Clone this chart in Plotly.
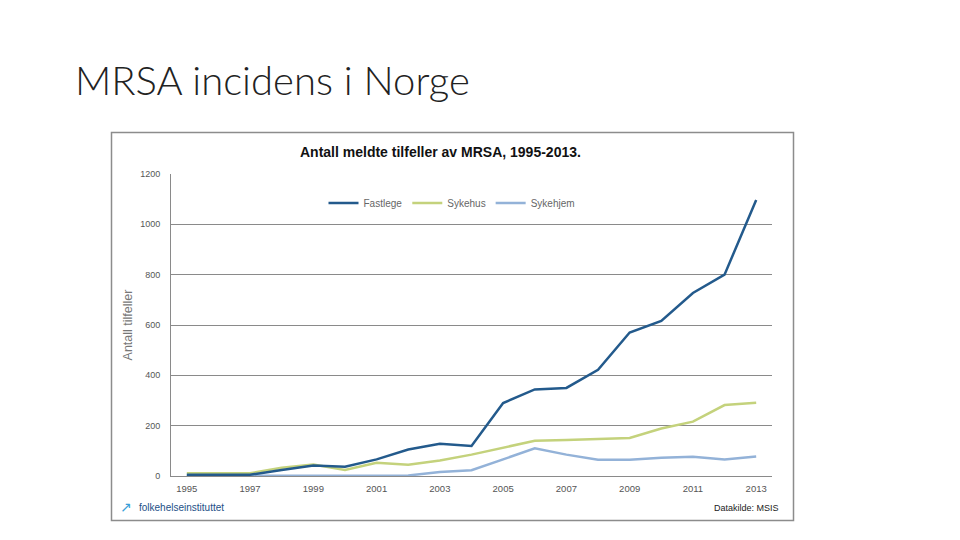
import plotly.graph_objects as go

years = list(range(1995, 2014))
fastlege = [5, 5, 5, 24, 42, 37, 66, 105, 128, 119, 290, 344, 350, 422, 570, 616, 727, 800, 1097]
sykehus = [11, 11, 11, 33, 46, 24, 53, 45, 62, 85, 113, 140, 143, 148, 151, 189, 216, 282, 291]
sykehjem = [0, 0, 0, 0, 0, 0, 0, 2, 16, 23, 66, 110, 85, 65, 65, 73, 76, 66, 77]
x_ticks = [1995, 1997, 1999, 2001, 2003, 2005, 2007, 2009, 2011, 2013]
y_ticks = [0, 200, 400, 600, 800, 1000, 1200]

series = [("Fastlege", fastlege, "#235a8c"),
          ("Sykehus", sykehus, "#c4d27c"),
          ("Sykehjem", sykehjem, "#93b2d8")]

fig = go.Figure()
for name, vals, col in reversed(series):
    fig.add_trace(go.Scatter(x=years, y=vals, name=name, mode="lines",
                             line=dict(color=col, width=2.5)))

W, H = 960, 540
def px(x):
    return x / W
def py(y):
    return 1 - y / H

fig.update_layout(
    width=W, height=H,
    margin=dict(l=0, r=0, t=0, b=0, autoexpand=False),
    paper_bgcolor="white", plot_bgcolor="white",
    font=dict(family="Arial, Liberation Sans", color="#444"),
    showlegend=True,
    legend=dict(orientation="h", x=px(452), y=py(203), xanchor="center", yanchor="middle",
                traceorder="reversed", font=dict(size=10, color="#666"),
                itemwidth=30, bgcolor="rgba(0,0,0,0)"),
    xaxis=dict(domain=[px(171), px(772)], range=[1994.5, 2013.5], automargin=False,
               tickvals=x_ticks, ticks="", showgrid=False, ticklabelstandoff=4,
               showline=True, linecolor="#8a8a8a", linewidth=1,
               tickfont=dict(size=9.5, color="#555"), zeroline=False),
    yaxis=dict(domain=[py(476), py(174)], range=[0, 1200], automargin=False,
               tickvals=y_ticks, ticks="", showgrid=True, gridcolor="#8a8a8a", gridwidth=1,
               showline=True, linecolor="#8a8a8a", linewidth=1, ticklabelstandoff=8,
               tickfont=dict(size=9, color="#555"), zeroline=False,
               title=dict(text="Antall tilfeller", font=dict(size=12.5, color="#777"), standoff=4)),
    shapes=[dict(type="rect", xref="paper", yref="paper",
                 x0=px(111.5), x1=px(793.5), y0=py(520.5), y1=py(132.5),
                 line=dict(color="#8c8c8c", width=1.5))],
    annotations=[
        dict(text="MRSA incidens i Norge", xref="paper", yref="paper",
             x=px(73), y=py(80), xanchor="left", yanchor="middle", showarrow=False,
             font=dict(family="Lato", size=40, color="#222", weight=300)),
        dict(text="<b>Antall meldte tilfeller av MRSA, 1995-2013.</b>", xref="paper", yref="paper",
             x=px(440), y=py(152), xanchor="center", yanchor="middle", showarrow=False,
             font=dict(family="Arial, Liberation Sans", size=14, color="#111")),
        dict(text="folkehelseinstituttet", xref="paper", yref="paper",
             x=px(137), y=py(507), xanchor="left", yanchor="middle", showarrow=False,
             font=dict(family="Arial, Liberation Sans", size=10, color="#1c4f86")),
        dict(text="\u2197", xref="paper", yref="paper",
             x=px(126), y=py(507), xanchor="center", yanchor="middle", showarrow=False,
             font=dict(family="DejaVu Sans", size=14, color="#3aa0d8")),
        dict(text="Datakilde: MSIS", xref="paper", yref="paper",
             x=px(781), y=py(508), xanchor="right", yanchor="middle", showarrow=False,
             font=dict(family="Arial, Liberation Sans", size=9, color="#222")),
    ],
)

fig.write_html("out.html", config={"displayModeBar": False},
               post_script="document.body.style.margin='0';document.body.style.overflow='hidden';")
